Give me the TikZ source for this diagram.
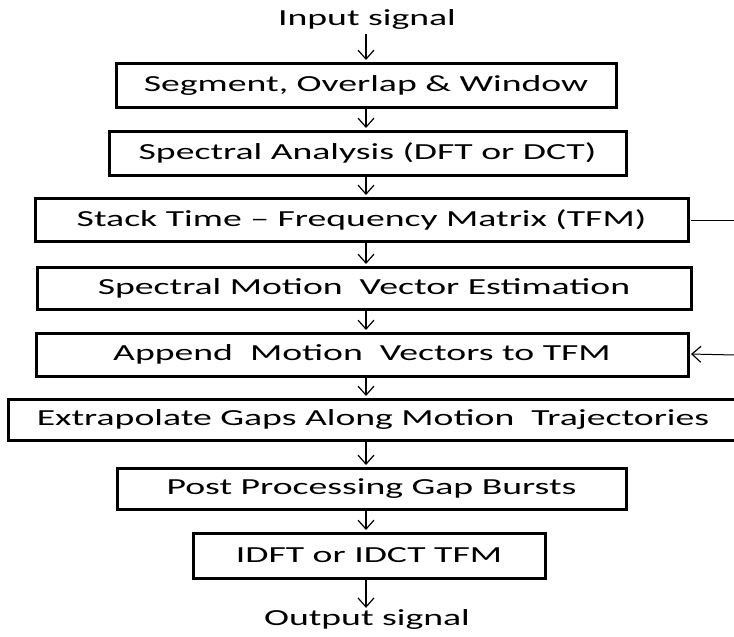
\documentclass[tikz,border=0pt]{standalone}
\usepackage{fontspec}
\setmainfont[FakeStretch=1.64]{Carlito}
\usetikzlibrary{arrows.meta}
\begin{document}
\begin{tikzpicture}[x=1pt,y=-1pt,
  box/.style={draw,line width=3pt,inner sep=0pt,font=\fontsize{23}{27}\selectfont,anchor=center},
  lbl/.style={inner sep=0pt,font=\fontsize{23}{27}\selectfont,anchor=center},
  arr/.style={line width=1.2pt,-{Straight Barb[length=9pt,width=16pt,line width=1.2pt]},shorten >=1.5pt},
  fb/.style={line width=1pt}]
\useasboundingbox (0,0) rectangle (734,637);
\node[lbl] (in) at (367,19) {Input signal};
\node[box,minimum width=500,minimum height=44] (b1) at (366,85) {Segment, Overlap \& Window};
\node[box,minimum width=517,minimum height=44] (b2) at (367.5,153) {Spectral Analysis (DFT or DCT)};
\node[box,minimum width=653,minimum height=43] (b3) at (361.5,219.5) {Stack Time -- Frequency Matrix (TFM)};
\node[box,minimum width=654,minimum height=42] (b4) at (364,288) {Spectral Motion\ \ Vector Estimation};
\node[box,minimum width=652,minimum height=43] (b5) at (362,354.5) {Append\ \ Motion\ \ Vectors to TFM};
\node[box,minimum width=730,minimum height=41] (b6) at (373,419.5) {Extrapolate Gaps Along Motion\ \ Trajectories};
\node[box,minimum width=509,minimum height=41] (b7) at (371.5,488.5) {Post Processing Gap Bursts};
\node[box,minimum width=352,minimum height=45] (b8) at (369,555.5) {IDFT or IDCT TFM};
\node[lbl] (out) at (367,619) {Output signal};
\coordinate (ax) at (366,0);
\coordinate (edge) at (735,0);
\draw[arr] (in.south -| ax) ++(0,5) -- (b1.north -| ax);
\draw[arr] (b1.south -| ax) -- (b2.north -| ax);
\draw[arr] (b2.south -| ax) -- (b3.north -| ax);
\draw[arr] (b3.south -| ax) -- (b4.north -| ax);
\draw[arr] (b4.south -| ax) -- (b5.north -| ax);
\draw[arr] (b5.south -| ax) -- (b6.north -| ax);
\draw[arr] (b6.south -| ax) -- (b7.north -| ax);
\draw[arr] (b7.south -| ax) -- (b8.north -| ax);
\draw[arr,shorten >=1pt] (b8.south -| ax) -- (out.north -| ax);
\draw[fb] (b3.east) ++(1.5,1) -- (edge |- 0,220.5);
\draw[arr,line width=1pt] (edge |- 0,355) -- ([yshift=0.5pt]b5.east);
\end{tikzpicture}
\end{document}
